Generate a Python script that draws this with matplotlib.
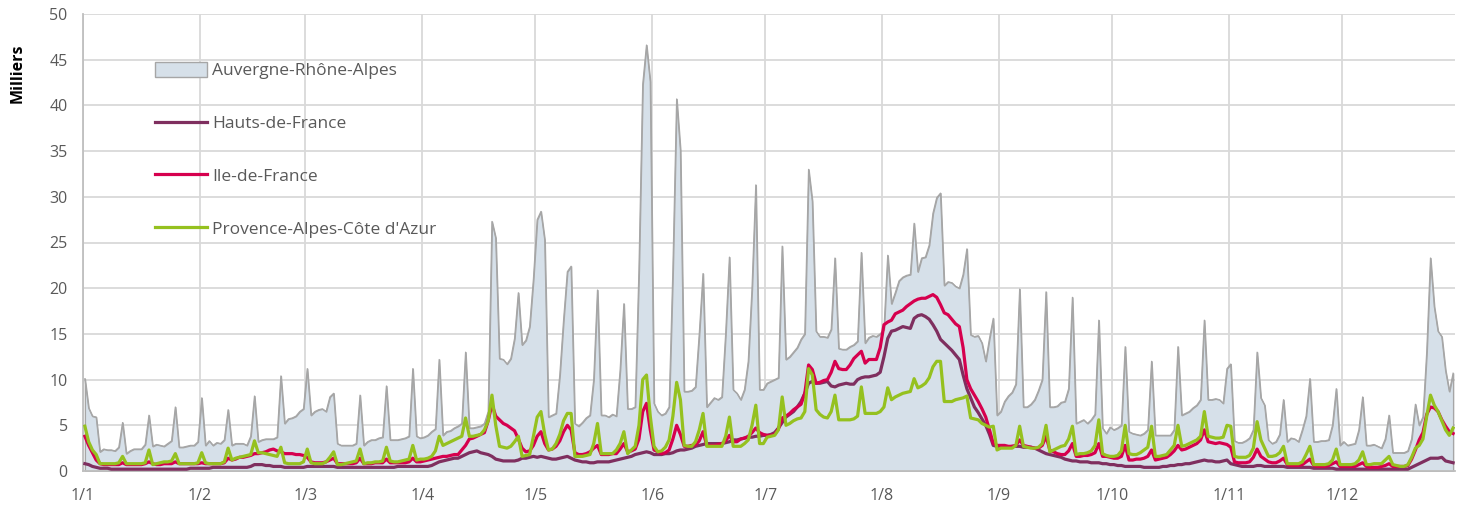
import matplotlib
matplotlib.use("Agg")
import matplotlib.pyplot as plt
import numpy as np

plt.rcParams['font.family'] = ['Open Sans', 'DejaVu Sans']

# valeurs journalieres (milliers), une ligne = un mois, 2019 (jusqu'au 30/12)
auvergne = [
    10.1, 6.9, 6.0, 5.9, 2.1, 2.4, 2.3, 2.3, 2.2, 2.6, 5.3, 1.9, 2.2, 2.4, 2.4, 2.4, 2.9, 6.1, 2.7, 2.9, 2.8, 2.7, 3.0, 3.3, 7.0, 2.6, 2.6, 2.7, 2.8, 2.8, 3.2,
    8.0, 2.8, 3.3, 2.8, 3.1, 3.0, 3.4, 6.7, 2.8, 3.0, 3.0, 3.0, 2.8, 3.8, 8.2, 3.2, 3.4, 3.5, 3.5, 3.5, 3.7, 10.4, 5.2, 5.7, 5.8, 6.0, 6.5, 6.8,
    11.2, 6.1, 6.5, 6.7, 6.8, 6.5, 8.1, 8.5, 3.0, 2.8, 2.8, 2.8, 2.8, 3.0, 8.3, 2.8, 3.2, 3.4, 3.4, 3.6, 3.7, 9.3, 3.4, 3.4, 3.4, 3.5, 3.6, 3.8, 11.2, 3.8, 3.6,
    3.7, 3.9, 4.3, 4.6, 12.2, 3.9, 4.3, 4.4, 4.7, 4.9, 5.2, 13.0, 4.7, 4.7, 4.8, 4.9, 5.2, 6.5, 27.3, 25.5, 12.3, 12.2, 11.7, 12.3, 14.5, 19.5, 13.8, 14.3, 15.8, 21.0,
    27.5, 28.4, 25.3, 5.9, 6.1, 6.3, 10.5, 16.5, 21.8, 22.4, 5.2, 4.9, 5.3, 5.8, 6.1, 10.0, 19.8, 6.1, 6.1, 5.9, 6.2, 6.0, 11.0, 18.3, 6.8, 6.8, 7.0, 22.0, 42.3, 46.6, 42.6,
    7.4, 6.5, 6.1, 6.3, 7.0, 22.0, 40.7, 35.1, 8.7, 8.7, 8.8, 9.2, 15.0, 21.6, 7.0, 7.5, 8.0, 7.8, 8.1, 15.0, 23.4, 8.9, 8.5, 7.8, 8.9, 12.0, 20.0, 31.3, 8.9, 8.9,
    9.6, 9.8, 10.0, 10.2, 24.6, 12.2, 12.5, 13.0, 13.5, 14.4, 15.0, 33.0, 29.5, 15.3, 14.7, 14.7, 14.6, 15.5, 23.3, 13.4, 13.3, 13.3, 13.6, 13.8, 14.2, 23.9, 14.0, 14.6, 14.8, 14.7, 15.0,
    15.5, 23.6, 18.3, 19.5, 20.8, 21.2, 21.4, 21.5, 27.1, 21.8, 23.3, 23.4, 24.7, 28.2, 29.9, 30.4, 20.3, 20.7, 20.6, 20.2, 20.0, 21.5, 24.3, 14.9, 14.7, 14.8, 14.0, 12.0, 14.5, 16.7, 6.1,
    6.5, 7.6, 8.2, 8.6, 9.5, 19.9, 7.0, 7.0, 7.3, 7.8, 8.8, 10.0, 19.6, 7.0, 7.0, 7.1, 7.5, 7.6, 9.0, 19.0, 5.2, 5.4, 5.6, 5.2, 5.6, 6.2, 16.5, 4.7, 4.1, 4.8,
    4.5, 4.7, 5.0, 13.6, 4.3, 4.1, 4.0, 3.9, 4.1, 4.5, 12.0, 3.9, 3.9, 3.9, 3.9, 3.9, 4.5, 13.6, 6.1, 6.3, 6.5, 6.9, 7.2, 7.8, 16.5, 7.8, 7.8, 7.9, 7.8, 7.4, 11.2,
    11.7, 3.3, 3.1, 3.1, 3.3, 3.6, 4.5, 13.0, 8.0, 7.2, 3.4, 3.0, 3.2, 4.0, 7.8, 3.2, 3.6, 3.5, 3.2, 4.5, 6.0, 10.1, 3.2, 3.2, 3.3, 3.3, 3.4, 5.0, 9.0, 2.8,
    3.2, 2.8, 2.9, 3.0, 4.5, 8.1, 2.8, 2.8, 2.9, 2.7, 2.5, 3.5, 6.1, 2.0, 2.0, 2.0, 2.0, 2.2, 3.5, 7.3, 5.0, 5.9, 13.0, 23.3, 18.0, 15.3, 14.7, 11.0, 8.7, 10.7,
]

hauts = [
    0.8, 0.7, 0.5, 0.4, 0.3, 0.3, 0.3, 0.2, 0.2, 0.2, 0.2, 0.2, 0.2, 0.2, 0.2, 0.2, 0.2, 0.2, 0.2, 0.2, 0.2, 0.2, 0.2, 0.2, 0.2, 0.2, 0.2, 0.2, 0.3, 0.3, 0.3,
    0.3, 0.3, 0.3, 0.4, 0.4, 0.4, 0.4, 0.4, 0.4, 0.4, 0.4, 0.4, 0.4, 0.5, 0.7, 0.7, 0.7, 0.6, 0.6, 0.5, 0.5, 0.5, 0.4, 0.4, 0.4, 0.4, 0.4, 0.4,
    0.5, 0.5, 0.5, 0.5, 0.5, 0.5, 0.5, 0.5, 0.4, 0.4, 0.4, 0.4, 0.4, 0.4, 0.4, 0.4, 0.4, 0.4, 0.4, 0.4, 0.4, 0.4, 0.4, 0.4, 0.5, 0.5, 0.5, 0.5, 0.5, 0.5, 0.5,
    0.5, 0.5, 0.6, 0.8, 1.0, 1.1, 1.2, 1.3, 1.4, 1.4, 1.6, 1.8, 2.0, 2.1, 2.2, 2.0, 1.9, 1.8, 1.6, 1.3, 1.2, 1.1, 1.1, 1.1, 1.1, 1.2, 1.4, 1.4, 1.5, 1.6,
    1.5, 1.6, 1.5, 1.4, 1.3, 1.3, 1.4, 1.5, 1.6, 1.4, 1.2, 1.1, 1.0, 1.0, 0.9, 0.9, 1.0, 1.0, 1.0, 1.0, 1.1, 1.2, 1.3, 1.4, 1.5, 1.6, 1.8, 1.9, 2.0, 2.1, 2.0,
    1.8, 1.8, 1.8, 1.9, 1.9, 2.0, 2.2, 2.3, 2.3, 2.4, 2.5, 2.7, 2.8, 2.9, 3.0, 3.0, 3.0, 3.0, 3.0, 3.1, 3.2, 3.4, 3.4, 3.5, 3.6, 3.7, 3.7, 3.8, 3.8, 3.9,
    3.9, 4.0, 4.2, 4.7, 5.3, 5.9, 6.2, 6.5, 7.0, 7.6, 8.5, 9.6, 9.8, 9.6, 9.6, 9.7, 9.8, 9.3, 9.2, 9.4, 9.5, 9.6, 9.5, 9.5, 10.0, 10.2, 10.3, 10.3, 10.4, 10.5, 10.8,
    12.5, 14.5, 15.3, 15.4, 15.6, 15.8, 15.7, 15.6, 16.7, 17.0, 17.1, 16.9, 16.6, 16.0, 15.3, 14.4, 14.0, 13.6, 13.2, 12.7, 12.2, 10.5, 9.0, 8.0, 7.0, 6.4, 5.7, 5.0, 4.0, 2.8, 2.7,
    2.6, 2.6, 2.6, 2.7, 2.7, 2.7, 2.6, 2.6, 2.6, 2.5, 2.3, 2.1, 1.9, 1.8, 1.7, 1.6, 1.5, 1.3, 1.2, 1.1, 1.1, 1.0, 1.0, 1.0, 0.9, 0.9, 0.9, 0.8, 0.8, 0.7,
    0.7, 0.6, 0.6, 0.5, 0.5, 0.5, 0.5, 0.5, 0.4, 0.4, 0.4, 0.4, 0.4, 0.5, 0.5, 0.6, 0.6, 0.7, 0.7, 0.8, 0.8, 0.9, 1.0, 1.1, 1.2, 1.1, 1.1, 1.0, 1.0, 1.1, 1.2,
    0.8, 0.7, 0.6, 0.5, 0.5, 0.5, 0.5, 0.6, 0.6, 0.5, 0.5, 0.5, 0.5, 0.5, 0.5, 0.4, 0.4, 0.4, 0.4, 0.4, 0.4, 0.4, 0.3, 0.3, 0.3, 0.3, 0.3, 0.3, 0.2, 0.2,
    0.2, 0.2, 0.2, 0.2, 0.2, 0.2, 0.2, 0.2, 0.2, 0.2, 0.2, 0.2, 0.2, 0.2, 0.2, 0.2, 0.2, 0.2, 0.4, 0.6, 0.8, 1.0, 1.2, 1.4, 1.4, 1.4, 1.5, 1.1, 1.0, 0.9,
]

ile_de_france = [
    3.8, 2.8, 2.0, 1.2, 0.8, 0.7, 0.7, 0.7, 0.7, 0.7, 0.9, 0.7, 0.7, 0.7, 0.7, 0.7, 0.8, 1.0, 0.8, 0.7, 0.7, 0.8, 0.8, 0.8, 1.0, 0.8, 0.8, 0.8, 0.8, 0.8, 0.8,
    0.9, 0.8, 0.8, 0.8, 0.8, 0.8, 0.9, 1.4, 1.2, 1.3, 1.5, 1.5, 1.6, 1.7, 1.9, 1.9, 2.0, 2.1, 2.3, 2.4, 2.2, 2.1, 1.9, 1.9, 1.9, 1.8, 1.8, 1.7,
    1.5, 1.0, 0.9, 0.9, 0.9, 1.0, 1.2, 1.4, 0.8, 0.8, 0.8, 0.8, 0.8, 0.9, 1.4, 0.8, 0.8, 0.8, 0.9, 0.9, 0.9, 1.3, 0.9, 0.9, 0.9, 0.9, 0.9, 1.0, 1.4, 1.0, 1.0,
    1.1, 1.2, 1.3, 1.4, 1.5, 1.6, 1.6, 1.7, 1.8, 1.8, 2.3, 2.8, 3.5, 3.6, 3.8, 4.0, 4.2, 5.5, 7.3, 6.0, 5.6, 5.2, 5.0, 4.7, 4.4, 3.5, 2.5, 2.1, 2.2, 2.8,
    3.8, 4.3, 3.0, 2.3, 2.4, 2.7, 3.3, 4.3, 5.0, 4.5, 2.0, 1.8, 1.8, 1.9, 2.1, 2.5, 2.8, 1.8, 1.8, 1.8, 1.9, 1.9, 2.4, 3.0, 2.1, 2.2, 2.4, 3.5, 6.5, 7.4, 4.5,
    2.3, 2.1, 1.9, 2.0, 2.3, 3.5, 5.0, 4.0, 2.7, 2.7, 2.8, 2.85, 3.3, 4.3, 2.8, 2.8, 2.8, 2.9, 3.0, 3.3, 3.9, 3.2, 3.2, 3.5, 3.6, 3.8, 4.2, 4.7, 4.2, 4.0,
    3.9, 3.9, 4.0, 4.6, 5.8, 6.0, 6.3, 6.7, 7.0, 7.3, 8.5, 11.6, 11.1, 9.6, 9.7, 9.9, 10.0, 10.8, 12.0, 11.2, 11.1, 11.1, 11.6, 12.3, 12.7, 13.1, 11.8, 12.2, 12.2, 12.2, 13.5,
    16.0, 16.3, 16.5, 17.2, 17.4, 17.6, 18.0, 18.3, 18.6, 18.8, 18.9, 18.9, 19.1, 19.3, 19.0, 18.2, 17.3, 17.1, 16.6, 16.1, 15.8, 13.5, 10.0, 9.0, 8.3, 7.6, 6.8, 5.9, 4.5, 3.0, 2.8,
    2.8, 2.8, 2.7, 2.7, 2.8, 3.4, 2.8, 2.7, 2.6, 2.5, 2.5, 2.8, 3.8, 2.3, 2.1, 1.9, 1.8, 1.8, 2.2, 3.0, 1.6, 1.6, 1.7, 1.7, 1.8, 2.0, 3.0, 1.6, 1.6, 1.5,
    1.4, 1.4, 1.6, 2.8, 1.2, 1.2, 1.3, 1.3, 1.4, 1.6, 2.3, 1.2, 1.3, 1.4, 1.5, 1.8, 2.2, 2.8, 2.3, 2.4, 2.6, 2.8, 3.0, 3.4, 4.5, 3.2, 3.1, 3.0, 3.1, 3.0, 2.9,
    2.6, 1.0, 0.9, 0.9, 0.9, 1.0, 1.5, 2.4, 1.6, 1.3, 1.0, 0.9, 0.9, 1.1, 1.4, 0.7, 0.6, 0.6, 0.6, 0.7, 1.0, 1.3, 0.6, 0.5, 0.5, 0.5, 0.6, 0.8, 1.0, 0.5,
    0.5, 0.5, 0.5, 0.5, 0.7, 0.9, 0.5, 0.4, 0.4, 0.4, 0.5, 0.6, 0.8, 0.5, 0.5, 0.5, 0.5, 0.6, 1.3, 2.3, 3.4, 4.2, 6.2, 7.0, 6.9, 6.5, 5.6, 4.9, 4.3, 4.1,
]

paca = [
    4.9, 3.2, 2.3, 1.8, 0.8, 0.8, 0.8, 0.8, 0.8, 0.9, 1.6, 0.8, 0.8, 0.8, 0.8, 0.8, 0.9, 2.3, 0.7, 0.8, 0.9, 1.0, 1.0, 1.1, 1.9, 0.8, 0.8, 0.8, 0.8, 0.8, 0.9,
    2.0, 0.9, 0.8, 0.8, 0.8, 0.8, 1.0, 2.5, 1.2, 1.4, 1.5, 1.6, 1.7, 1.8, 3.3, 2.0, 2.0, 1.9, 1.8, 1.7, 1.6, 2.6, 0.9, 0.8, 0.8, 0.8, 0.8, 1.0,
    2.4, 0.9, 0.8, 0.8, 0.8, 1.0, 1.5, 2.1, 0.7, 0.7, 0.8, 0.9, 1.0, 1.1, 2.4, 0.8, 0.9, 0.9, 1.0, 1.0, 1.1, 2.6, 1.1, 1.0, 1.0, 1.1, 1.2, 1.3, 2.8, 1.2, 1.3,
    1.3, 1.4, 1.6, 2.2, 3.8, 2.8, 3.0, 3.2, 3.4, 3.6, 3.8, 5.8, 3.8, 3.8, 3.9, 4.0, 4.5, 5.5, 8.3, 5.0, 2.7, 2.6, 2.5, 2.7, 3.2, 3.8, 1.6, 1.7, 1.8, 3.8,
    5.9, 6.5, 4.0, 2.3, 2.4, 3.0, 4.0, 5.5, 6.3, 6.3, 1.6, 1.6, 1.6, 1.7, 1.8, 3.0, 5.2, 1.9, 1.9, 1.9, 1.9, 2.3, 3.0, 4.3, 1.9, 2.3, 2.7, 5.0, 10.0, 10.5, 6.0,
    2.7, 2.1, 2.2, 2.6, 3.4, 6.0, 9.7, 7.8, 2.8, 2.7, 2.7, 3.2, 4.5, 6.3, 2.7, 2.7, 2.7, 2.7, 2.7, 3.8, 5.9, 2.7, 2.7, 2.7, 3.0, 3.4, 5.0, 7.2, 3.0, 3.0,
    3.7, 3.8, 3.9, 4.5, 8.1, 5.0, 5.2, 5.5, 5.7, 5.8, 6.5, 11.2, 10.5, 6.7, 6.2, 5.9, 5.8, 6.5, 8.3, 5.6, 5.6, 5.6, 5.6, 5.7, 6.0, 9.2, 6.3, 6.3, 6.3, 6.3, 6.5,
    7.0, 9.1, 7.8, 8.1, 8.3, 8.5, 8.6, 8.7, 10.1, 9.1, 9.3, 9.6, 10.2, 11.4, 12.0, 12.0, 7.6, 7.6, 7.6, 7.8, 7.9, 8.0, 8.2, 5.8, 5.7, 5.6, 5.2, 5.0, 4.8, 4.9, 2.3,
    2.5, 2.5, 2.5, 2.5, 2.8, 4.9, 2.7, 2.6, 2.5, 2.5, 2.6, 3.0, 5.0, 2.1, 2.3, 2.5, 2.7, 2.8, 3.5, 4.9, 1.8, 1.9, 1.9, 2.0, 2.2, 2.8, 5.6, 1.9, 1.7, 1.6,
    1.6, 1.7, 2.2, 5.0, 1.9, 1.8, 1.8, 2.0, 2.3, 2.6, 4.9, 1.6, 1.6, 1.7, 1.8, 2.3, 2.8, 5.0, 2.7, 2.8, 3.0, 3.2, 3.4, 3.8, 6.5, 3.8, 3.7, 3.6, 3.6, 3.7, 5.0,
    4.9, 1.6, 1.5, 1.5, 1.5, 1.7, 2.5, 5.4, 3.4, 2.5, 1.6, 1.6, 1.7, 2.0, 2.7, 0.8, 0.8, 0.8, 0.8, 1.0, 1.8, 2.7, 0.7, 0.7, 0.7, 0.7, 0.8, 1.2, 2.4, 0.7,
    0.7, 0.7, 0.7, 0.8, 1.2, 2.1, 0.7, 0.7, 0.8, 0.8, 0.8, 1.2, 1.6, 0.7, 0.6, 0.5, 0.5, 0.7, 1.5, 2.5, 2.8, 3.5, 6.0, 8.3, 7.2, 6.5, 5.5, 4.5, 3.9, 4.7,
]

month_labels = ['1/1', '1/2', '1/3', '1/4', '1/5', '1/6', '1/7', '1/8', '1/9', '1/10', '1/11', '1/12']
month_start = [0, 31, 59, 90, 120, 151, 181, 212, 243, 273, 304, 334]

lens = [len(auvergne), len(hauts), len(ile_de_france), len(paca)]
if len(set(lens)) != 1:
    raise ValueError(f"longueurs differentes: {lens}")

days = np.arange(len(auvergne))

fig = plt.figure(figsize=(14.65, 5.12), dpi=100)
ax = fig.add_axes([83 / 1465, 1 - 471 / 512, (1455 - 83) / 1465, (471 - 14) / 512])

grid_col = '#d9d9d9'
ax.fill_between(days, auvergne, 0, facecolor='#d6e0e9', edgecolor='none', zorder=2,
                label='Auvergne-Rhône-Alpes')
ax.plot(days, auvergne, color='#a6a6a6', lw=0.9, zorder=2.5)
ax.plot(days, hauts, color='#7f2f5f', lw=2.3, zorder=3, label='Hauts-de-France',
        solid_joinstyle='round')
ax.plot(days, ile_de_france, color='#d6004e', lw=2.3, zorder=4, label='Ile-de-France',
        solid_joinstyle='round')
ax.plot(days, paca, color='#95c11f', lw=2.3, zorder=5, label="Provence-Alpes-Côte d'Azur",
        solid_joinstyle='round')

ax.set_xlim(-0.5, 363.5)
ax.set_ylim(0, 50)
ax.set_yticks(np.arange(0, 51, 5))
ax.set_xticks([m - 0.5 for m in month_start])
ax.set_xticklabels(month_labels)

ax.grid(True, color=grid_col, lw=1.3, zorder=0)
ax.set_axisbelow(True)
for s in ['top', 'right']:
    ax.spines[s].set_visible(False)
ax.spines['left'].set_color('#bfbfbf')
ax.spines['bottom'].set_color('#bfbfbf')
ax.spines['left'].set_linewidth(1.3)
ax.spines['bottom'].set_linewidth(1.3)
ax.tick_params(axis='both', length=0, labelsize=11.5, colors='#595959')
ax.tick_params(axis='x', pad=12)
ax.tick_params(axis='y', pad=11)
for lab in ax.get_yticklabels():
    lab.set_horizontalalignment('right')

fig.text(18 / 1465, 1 - 73 / 512, 'Milliers', rotation=90, fontsize=11.5,
         fontweight='bold', ha='center', va='center', color='black')

# legende : gris avec bord gris
handles, labels = ax.get_legend_handles_labels()
handles[0].set_edgecolor('#a6a6a6')
handles[0].set_linewidth(1.0)
leg = ax.legend(handles, labels, loc='upper left', bbox_to_anchor=(0.042, 0.925),
                frameon=False, fontsize=12.5, handlelength=3.0, handleheight=0.9,
                handletextpad=0.3, labelspacing=2.05, borderpad=0.3)
for t in leg.get_texts():
    t.set_color('#595959')

fig.savefig('out.png', dpi=100)
